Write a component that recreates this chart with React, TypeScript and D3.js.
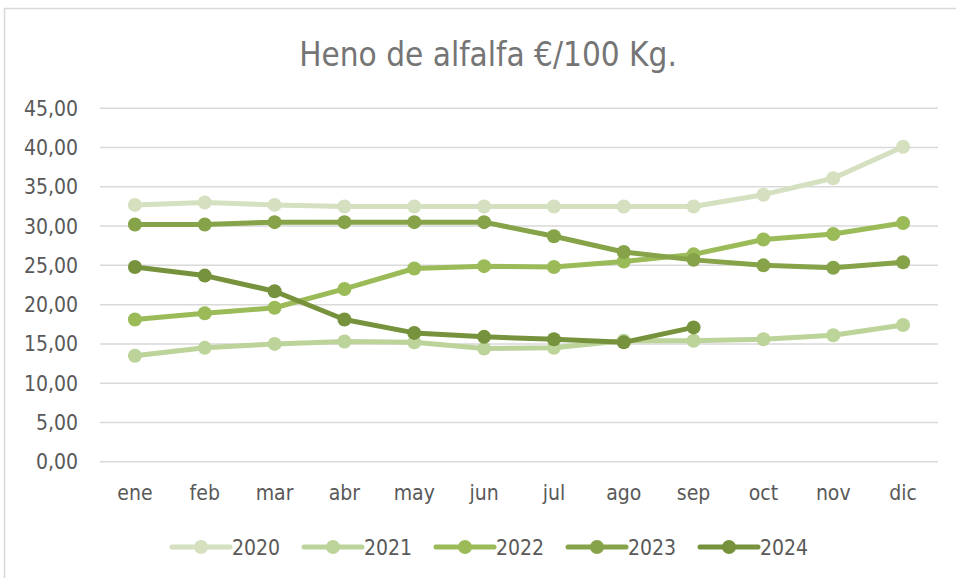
import React from "react";
import * as d3 from "d3";

const months = ["ene", "feb", "mar", "abr", "may", "jun", "jul", "ago", "sep", "oct", "nov", "dic"];
const yTicks = [0, 5, 10, 15, 20, 25, 30, 35, 40, 45];
const years = ["2020", "2021", "2022", "2023", "2024"];
const colors = ["#d4e0bf", "#bcd39a", "#9bbb59", "#86a34a", "#76923c"];

const s2020 = [32.7, 33.0, 32.7, 32.5, 32.5, 32.5, 32.5, 32.5, 32.5, 34.0, 36.1, 40.1];
const s2021 = [13.5, 14.5, 15.0, 15.3, 15.2, 14.4, 14.5, 15.4, 15.4, 15.6, 16.1, 17.4];
const s2022 = [18.1, 18.9, 19.6, 22.0, 24.6, 24.9, 24.8, 25.5, 26.4, 28.3, 29.0, 30.4];
const s2023 = [30.2, 30.2, 30.5, 30.5, 30.5, 30.5, 28.7, 26.7, 25.7, 25.0, 24.7, 25.4];
const s2024 = [24.8, 23.7, 21.7, 18.1, 16.4, 15.9, 15.6, 15.2, 17.1];
const seriesData = [s2020, s2021, s2022, s2023, s2024];

const W = 956;
const H = 578;
const left = 100;
const right = 938;
const top = 108.3;
const bottom = 461.7;
const font = "'DejaVu Sans Condensed', 'Liberation Sans Narrow', 'Open Sans', sans-serif";

export default function App() {
  const x = d3.scaleBand<string>().domain(months).range([left, right]);
  const y = d3.scaleLinear().domain([0, 45]).range([bottom, top]);
  const cx = (m: string) => (x(m) as number) + x.bandwidth() / 2;
  const line = d3
    .line<number>()
    .x((_, i) => cx(months[i]))
    .y((d) => y(d));
  const fmt = (v: number) => v.toFixed(2).replace(".", ",");

  const legendX0 = 172;
  const legendStep = 132;

  return (
    <svg
      width={W}
      height={H}
      style={{ position: "absolute", left: 0, top: 0, display: "block", background: "#fff" }}
      fontFamily={font}
    >
      <rect x={0} y={0} width={W} height={H} fill="#fff" />
      <rect x={4.5} y={8.5} width={W + 10} height={H + 10} fill="none" stroke="#d9d9d9" strokeWidth={1.5} />
      <text x={488} y={66} textAnchor="middle" fontSize={33} fill="#757575">
        Heno de alfalfa €/100 Kg.
      </text>
      {yTicks.map((t) => (
        <g key={t}>
          <line x1={left} x2={right} y1={y(t)} y2={y(t)} stroke="#d9d9d9" strokeWidth={1.5} />
          <text x={78} y={y(t) + 7.5} textAnchor="end" fontSize={21} fill="#595959">
            {fmt(t)}
          </text>
        </g>
      ))}
      {months.map((m) => (
        <text key={m} x={cx(m)} y={500} textAnchor="middle" fontSize={21} fill="#595959">
          {m}
        </text>
      ))}
      {seriesData.map((s, k) => (
        <g key={years[k]}>
          <path d={line(s) || ""} fill="none" stroke={colors[k]} strokeWidth={5} strokeLinejoin="round" strokeLinecap="round" />
          {s.map((v, i) => (
            <circle key={i} cx={cx(months[i])} cy={y(v)} r={7} fill={colors[k]} />
          ))}
        </g>
      ))}
      {years.map((yr, k) => {
        const lx = legendX0 + k * legendStep;
        return (
          <g key={yr}>
            <line x1={lx} x2={lx + 58} y1={547} y2={547} stroke={colors[k]} strokeWidth={5} strokeLinecap="round" />
            <circle cx={lx + 29} cy={547} r={7} fill={colors[k]} />
            <text x={lx + 60} y={555} fontSize={21} fill="#595959">
              {yr}
            </text>
          </g>
        );
      })}
    </svg>
  );
}
